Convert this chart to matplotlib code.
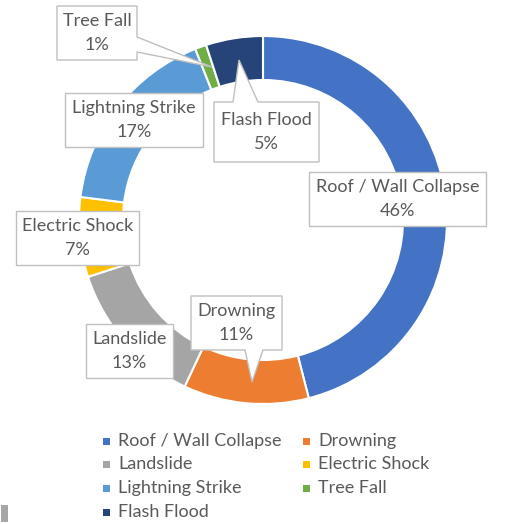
import numpy as np
import matplotlib.pyplot as plt
from matplotlib.patches import Polygon, Rectangle

# Data
categories = ['Roof / Wall Collapse', 'Drowning', 'Landslide', 'Electric Shock',
              'Lightning Strike', 'Tree Fall', 'Flash Flood']
values = [46, 11, 13, 7, 17, 1, 5]
colors = ['#4472C4', '#ED7D31', '#A5A5A5', '#FFC000', '#5B9BD5', '#70AD47', '#264478']

W, H = 509, 524
TEXT = '#595959'
EDGE = '#BFBFBF'
FONT = 'Lato'
FS = 13


def py(y):
    # pixel y (top-down) -> data y
    return H - y


fig = plt.figure(figsize=(W / 100, H / 100), dpi=100)
ax = fig.add_axes([0, 0, 1, 1])

ax.pie(values, colors=colors, startangle=90, counterclock=False,
       radius=184, center=(263, py(220)),
       wedgeprops=dict(width=44, edgecolor='white', linewidth=1.5))
ax.set_xlim(0, W)
ax.set_ylim(0, H)
ax.set_aspect('equal')
ax.axis('off')

# label boxes (x0, y0, x1, y1) and optional callout ((base_a, base_b), tip, side)
boxes = {
    'Roof / Wall Collapse': ((309, 172, 486, 226), None),
    'Drowning': ((191, 296, 282, 350), ((245, 263), (252, 382), 'bottom')),
    'Landslide': ((86, 324, 173, 378), None),
    'Electric Shock': ((16, 211, 139, 265), None),
    'Lightning Strike': ((65, 93, 203, 147), None),
    'Tree Fall': ((57, 6, 137, 60), ((37, 52), (212, 67), 'right')),
    'Flash Flood': ((214, 102, 319, 162), ((233, 258), (239, 60), 'top')),
}

total = sum(values)
for name, v in zip(categories, values):
    (x0, y0, x1, y1), call = boxes[name]
    pts = [(x0, y0)]
    if call is not None and call[2] == 'top':
        (a, b), tip, _ = call
        pts += [(a, y0), tip, (b, y0)]
    pts += [(x1, y0)]
    if call is not None and call[2] == 'right':
        (a, b), tip, _ = call
        pts += [(x1, a), tip, (x1, b)]
    pts += [(x1, y1)]
    if call is not None and call[2] == 'bottom':
        (a, b), tip, _ = call
        pts += [(b, y1), tip, (a, y1)]
    pts += [(x0, y1)]
    poly = Polygon([(px, py(pyy)) for px, pyy in pts], closed=True,
                   facecolor='white', edgecolor=EDGE, linewidth=1.0, zorder=5)
    ax.add_patch(poly)
    cx = (x0 + x1) / 2
    cy = (y0 + y1) / 2
    ax.text(cx, py(cy - 12), name, ha='center', va='center', color=TEXT,
            fontsize=FS, family=FONT, zorder=6)
    ax.text(cx, py(cy + 12), f"{v / total * 100:.0f}%", ha='center', va='center',
            color=TEXT, fontsize=FS, family=FONT, zorder=6)

# legend, row-major in two columns
col_x = [107, 307]
row_y = [441, 464, 488, 512]
for i, (name, c) in enumerate(zip(categories, colors)):
    r, k = divmod(i, 2)
    mx, my = col_x[k], row_y[r]
    ax.add_patch(Rectangle((mx - 3.5, py(my) - 3.5), 7, 7, facecolor=c, edgecolor='none'))
    ax.text(mx + 11, py(my), name, ha='left', va='center', color=TEXT,
            fontsize=FS, family=FONT)

# stray mark at bottom-left corner
ax.add_patch(Rectangle((1, py(522)), 7, 17, facecolor='#A6A6A6', edgecolor='none'))

fig.savefig('out.png', dpi=100)
